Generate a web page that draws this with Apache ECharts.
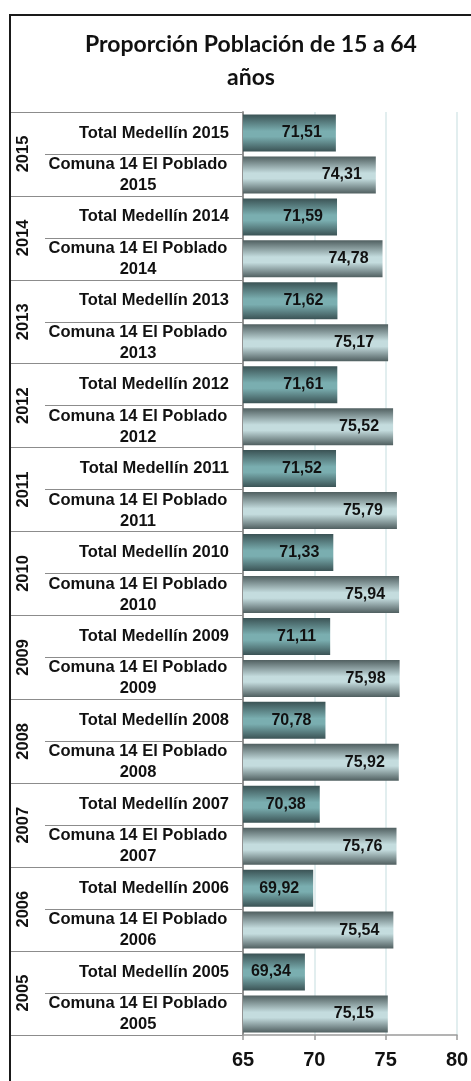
<!DOCTYPE html>
<html>
<head>
<meta charset="utf-8">
<title>Proporción Población de 15 a 64 años</title>
<script src="https://cdn.jsdelivr.net/npm/echarts@6/dist/echarts.min.js"></script>
<style>
    html, body { margin: 0; padding: 0; background: #fff; }
    #chart { width: 471px; height: 1081px; }
</style>
</head>
<body>
<div id="chart"></div>
<script>
// datos de arriba hacia abajo
var years = ['2015', '2014', '2013', '2012', '2011', '2010', '2009', '2008', '2007', '2006', '2005'];
var totalMedellin = [71.51, 71.59, 71.62, 71.61, 71.52, 71.33, 71.11, 70.78, 70.38, 69.92, 69.34];
var comuna14 = [74.31, 74.78, 75.17, 75.52, 75.79, 75.94, 75.98, 75.92, 75.76, 75.54, 75.15];
var xTicks = [65, 70, 75, 80];

var categories = [];
var totalData = [];
var comunaData = [];
for (var i = 0; i < years.length; i++) {
    categories.push('Total Medellín ' + years[i]);
    categories.push('Comuna 14 El Poblado ' + years[i]);
    totalData.push(totalMedellin[i], '-');
    comunaData.push('-', comuna14[i]);
}

var labelFont = '"Liberation Sans", Arial, sans-serif';

function grad(c1, c2) {
    return new echarts.graphic.LinearGradient(0, 0, 0, 1, [
        { offset: 0, color: c1 },
        { offset: 0.45, color: c2 },
        { offset: 0.6, color: c2 },
        { offset: 1, color: c1 }
    ]);
}

function valueLabel(p) {
    return p.value.toFixed(2).replace('.', ',');
}

var chart = echarts.init(document.getElementById('chart'));
var option = {
    animation: false,
    title: {
        text: 'Proporción Población de 15 a 64\naños',
        left: 251,
        top: 28,
        padding: 0,
        textAlign: 'center',
        textStyle: {
            fontFamily: 'Lato, "Open Sans", sans-serif',
            fontWeight: 'bold',
            fontSize: 23,
            lineHeight: 33,
            color: '#111'
        }
    },
    graphic: [{
        type: 'rect',
        shape: { x: 10, y: 15, width: 600, height: 1200 },
        style: { fill: 'none', stroke: '#1a1a1a', lineWidth: 2 },
        silent: true
    }],
    grid: {
        left: 243,
        right: 14,
        top: 112,
        bottom: 46,
        outerBoundsMode: 'none'
    },
    xAxis: {
        type: 'value',
        min: xTicks[0],
        max: xTicks[xTicks.length - 1],
        interval: 5,
        axisLine: { show: true, lineStyle: { color: '#9a9a9a', width: 1.5 } },
        axisTick: { show: true, length: 5, lineStyle: { color: '#9a9a9a', width: 1.5 } },
        splitLine: { show: true, lineStyle: { color: '#d9e8ea', width: 1.5 } },
        axisLabel: {
            margin: 15,
            fontFamily: labelFont,
            fontWeight: 'bold',
            fontSize: 20,
            color: '#111'
        }
    },
    yAxis: [{
        type: 'category',
        data: categories,
        inverse: true,
        position: 'left',
        axisLine: { show: true, lineStyle: { color: '#8c8c8c', width: 1.5 } },
        axisTick: { show: true, length: 198, lineStyle: { color: '#8c8c8c', width: 1.2 } },
        axisLabel: {
            interval: 0,
            margin: 14,
            align: 'right',
            color: '#111',
            formatter: function (v) {
                if (v.indexOf('Comuna') === 0) {
                    var p = v.lastIndexOf(' ');
                    return '{c|' + v.slice(0, p) + '}\n{c|' + v.slice(p + 1) + '}';
                }
                return '{t|' + v + '}';
            },
            rich: {
                c: { width: 182, align: 'center', fontFamily: labelFont, fontWeight: 'bold', fontSize: 16.5, lineHeight: 21, color: '#111' },
                t: { fontFamily: labelFont, fontWeight: 'bold', fontSize: 16.5, lineHeight: 21, color: '#111' }
            }
        }
    }, {
        type: 'category',
        data: years,
        inverse: true,
        position: 'left',
        offset: 0,
        axisLine: { show: true, lineStyle: { color: '#8c8c8c', width: 1.5 } },
        axisTick: { show: true, length: 232, lineStyle: { color: '#8c8c8c', width: 1.2 } },
        axisLabel: {
            interval: 0,
            rotate: 90,
            margin: 211,
            fontFamily: labelFont,
            fontWeight: 'bold',
            fontSize: 16.5,
            color: '#111'
        }
    }],
    series: [{
        name: 'Total Medellín',
        type: 'bar',
        yAxisIndex: 0,
        data: totalData,
        barWidth: 37,
        barGap: '-100%',
        itemStyle: { color: grad('#3b5355', '#7aaeb0') },
        label: {
            show: true,
            position: 'insideRight',
            distance: 14,
            formatter: valueLabel,
            fontFamily: labelFont,
            fontWeight: 'bold',
            fontSize: 16,
            color: '#111'
        }
    }, {
        name: 'Comuna 14 El Poblado',
        type: 'bar',
        yAxisIndex: 0,
        data: comunaData,
        barWidth: 37,
        barGap: '-100%',
        itemStyle: { color: grad('#505f60', '#c4dcde') },
        label: {
            show: true,
            position: 'insideRight',
            distance: 14,
            formatter: valueLabel,
            fontFamily: labelFont,
            fontWeight: 'bold',
            fontSize: 16,
            color: '#111'
        }
    }]
};
chart.setOption(option);
</script>
</body>
</html>
